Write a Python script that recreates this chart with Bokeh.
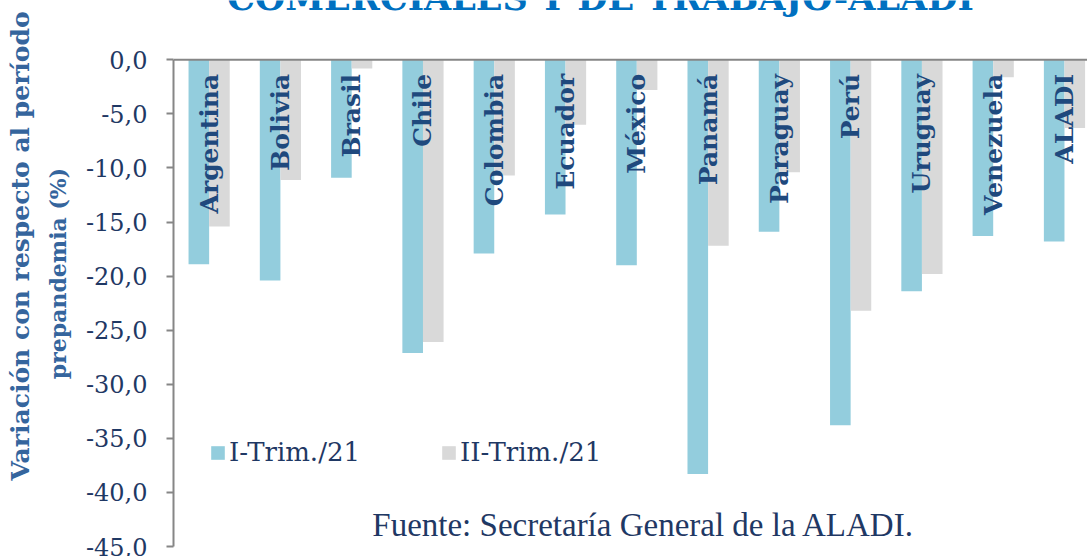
import numpy as np
from bokeh.plotting import figure
from bokeh.models import Range1d, FixedTicker, Label, Span, Legend, LegendItem, ColumnDataSource, Title
from bokeh.core.properties import value
from bokeh.embed import file_html
from bokeh.resources import INLINE

# ---------------- data ----------------
categories = ["Argentina", "Bolivia", "Brasil", "Chile", "Colombia", "Ecuador", "México",
              "Panamá", "Paraguay", "Perú", "Uruguay", "Venezuela", "ALADI"]
trim1 = [-18.9, -20.4, -10.9, -27.1, -17.9, -14.3, -19.0, -38.3, -15.9, -33.8, -21.4, -16.3, -16.8]
trim2 = [-15.4, -11.1, -0.8, -26.1, -10.7, -6.0, -2.8, -17.2, -10.4, -23.2, -19.8, -1.6, -6.3]
series_names = ["I-Trim./21", "II-Trim./21"]
y_ticks = [0, -5, -10, -15, -20, -25, -30, -35, -40, -45]
y_tick_labels = ["0,0", "-5,0", "-10,0", "-15,0", "-20,0", "-25,0", "-30,0", "-35,0", "-40,0", "-45,0"]
title_text = "COMERCIALES Y DE TRABAJO-ALADI"
ylabel_line1 = "Variación con respecto al período"
ylabel_line2 = "prepandemia (%)"
source_text = "Fuente: Secretaría General de la ALADI."

# ---------------- styling ----------------
BLUE = "#93CDDD"
GRAY = "#D9D9D9"
NAVY = "#1F3864"
LABEL_BLUE = "#1F497D"
AXIS_GRAY = "#868686"
YLAB = "#35659D"
bw = 0.289

n = len(categories)
centers = np.arange(n) + 0.5
src = ColumnDataSource(dict(
    cat=categories,
    x1=centers - bw / 2,
    x2=centers + bw / 2,
    xc=centers,
    t1=trim1,
    t2=trim2,
    ly=[-1.3] * n,
))

p = figure(width=1087, height=556, x_range=Range1d(0, 12.823), y_range=Range1d(-45, 5.486),
           x_axis_location=None, toolbar_location=None, output_backend="svg",
           min_border_left=173, min_border_right=0, min_border_top=0, min_border_bottom=10)
p.outline_line_color = None
p.grid.visible = False
p.background_fill_color = "white"
p.border_fill_color = "white"

r1 = p.vbar(x="x1", top="t1", bottom=0, width=bw, source=src, fill_color=BLUE, line_color=None)
r2 = p.vbar(x="x2", top="t2", bottom=0, width=bw, source=src, fill_color=GRAY, line_color=None)

p.text(x="xc", y="ly", text="cat", source=src, angle=np.pi / 2, text_align="right",
       text_baseline="middle", text_font=value("DejaVu Serif"), text_font_style="bold",
       text_font_size="25px", text_color=LABEL_BLUE)

# top zero line
p.add_layout(Span(location=0, dimension="width", line_color=AXIS_GRAY, line_width=2))

ax = p.yaxis[0]
ax.ticker = FixedTicker(ticks=y_ticks)
ax.bounds = (-45, 0)
ax.major_label_overrides = {float(t): l for t, l in zip(y_ticks, y_tick_labels)}
ax.major_label_text_font = "DejaVu Serif"
ax.major_label_text_font_size = "24px"
ax.major_label_text_color = NAVY
ax.axis_line_color = AXIS_GRAY
ax.axis_line_width = 2
ax.major_tick_line_color = AXIS_GRAY
ax.major_tick_line_width = 2
ax.major_tick_out = 7
ax.major_tick_in = 0
ax.minor_tick_line_color = None
ax.major_label_standoff = 19

legend = Legend(items=[LegendItem(label=series_names[0], renderers=[r1]),
                       LegendItem(label=series_names[1], renderers=[r2])],
                orientation="horizontal", location=(36, 79), border_line_color=None,
                background_fill_alpha=0, padding=0, margin=0, spacing=80,
                glyph_width=17, glyph_height=17, label_standoff=3,
                label_text_font="DejaVu Serif", label_text_font_size="26px",
                label_text_color=NAVY)
p.add_layout(legend)

# y-axis title in two lines (outer line added last)
p.add_layout(Title(text=ylabel_line2, align="center", offset=35, standoff=23,
                   text_font="DejaVu Serif", text_font_style="bold", text_font_size="22px",
                   text_color=YLAB), "left")
p.add_layout(Title(text=ylabel_line1, align="left", offset=66, standoff=-6,
                   text_font="DejaVu Serif", text_font_style="bold", text_font_size="25px",
                   text_color=YLAB), "left")

# chart title (partly outside the page, as in the source image)
p.add_layout(Label(x=5.99, y=5.76, text=title_text, text_align="center",
                   text_baseline="alphabetic", text_font="DejaVu Serif",
                   text_font_style="bold", text_font_size="35px", text_color="#0070C0"))
p.add_layout(Label(x=6.594, y=-42.98, text=source_text, text_align="center",
                   text_baseline="alphabetic", text_font="Liberation Serif",
                   text_font_size="33px", text_color=NAVY))

open("out.html", "w").write(file_html(p, INLINE))
